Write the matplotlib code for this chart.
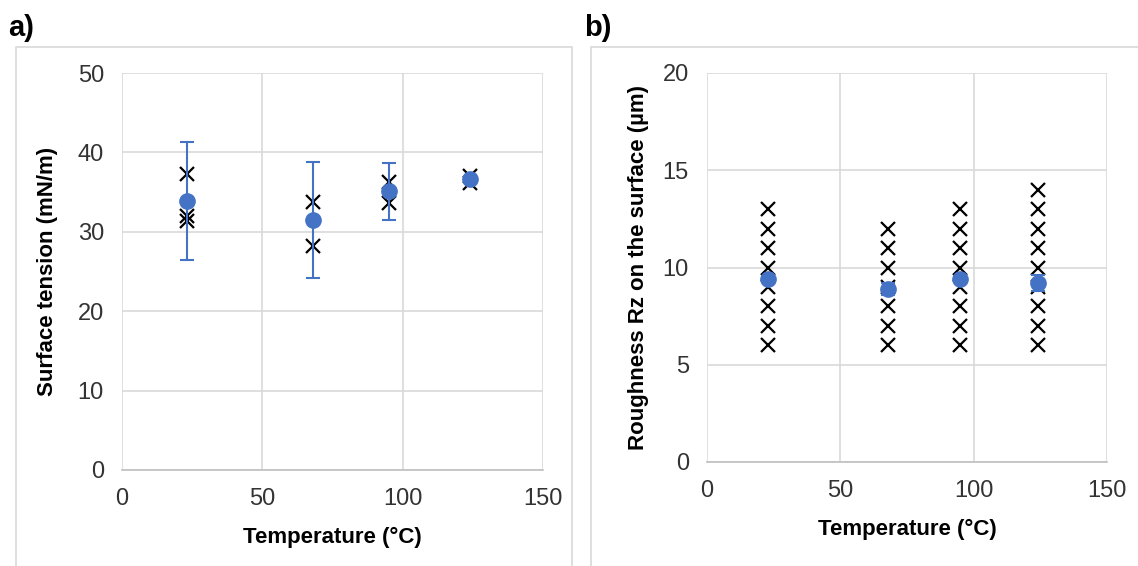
import matplotlib.pyplot as plt
from matplotlib.patches import Rectangle

plt.rcParams['font.family'] = ['Liberation Sans', 'DejaVu Sans']

# a) surface tension
temp_a = [23, 68, 95, 124]
tension_mean = [33.9, 31.5, 35.1, 36.6]
tension_err = [7.4, 7.3, 3.6, 0.3]
tension_x = [23, 23, 23, 68, 68, 95, 95, 124, 124]
tension_raw = [37.3, 32.0, 31.3, 33.8, 28.2, 36.3, 33.6, 37.0, 36.2]

# b) roughness
temp_b = [23, 68, 95, 124]
rough_mean = [9.4, 8.9, 9.4, 9.2]
rough_err = [0.1, 0.3, 0.1, 0.4]
rough_x = [23] * 8 + [68] * 7 + [95] * 8 + [124] * 9
rough_raw = (list(range(6, 14)) + list(range(6, 13)) +
             list(range(6, 14)) + list(range(6, 15)))

blue = '#4472C4'
grid_c = '#D9D9D9'
tick_c = '#333333'

fig = plt.figure(figsize=(11.38, 5.66), dpi=100)

# panel frames
fig.patches.append(Rectangle((16 / 1138, -0.01), (572 - 16) / 1138, 1 - 47 / 566 + 0.01,
                             transform=fig.transFigure, fill=False, ec='#D9D9D9', lw=1.2))
fig.patches.append(Rectangle((591 / 1138, -0.01), (1140 - 591) / 1138, 1 - 47 / 566 + 0.01,
                             transform=fig.transFigure, fill=False, ec='#D9D9D9', lw=1.2))

ax1 = fig.add_axes([122 / 1138, 1 - 470 / 566, (543 - 122) / 1138, (470 - 73) / 566])
ax2 = fig.add_axes([707 / 1138, 1 - 462 / 566, (1107 - 707) / 1138, (462 - 73) / 566])


def style(ax):
    for s in ['left', 'right', 'top']:
        ax.spines[s].set_visible(False)
    ax.spines['bottom'].set_color('#BFBFBF')
    ax.spines['bottom'].set_linewidth(1.2)
    ax.grid(True, color=grid_c, lw=1.2)
    ax.set_axisbelow(True)
    ax.tick_params(length=0, labelsize=17, colors=tick_c, pad=13)
    ax.set_xlim(0, 150)
    ax.set_xticks([0, 50, 100, 150])


style(ax1)
ax1.set_ylim(0, 50)
ax1.set_yticks(range(0, 51, 10))
ax1.plot(tension_x, tension_raw, 'x', color='black', ms=10.5, mew=1.6, zorder=2)
ax1.errorbar(temp_a, tension_mean, yerr=tension_err, fmt='o', color=blue, ms=11,
             ecolor=blue, elinewidth=1.5, capsize=5, capthick=1.5, zorder=3)
ax1.set_xlabel('Temperature (°C)', fontsize=16, fontweight='bold', labelpad=12)
ax1.set_ylabel('Surface tension (mN/m)', fontsize=16, fontweight='bold', labelpad=14)

style(ax2)
ax2.set_ylim(0, 20)
ax2.set_yticks(range(0, 21, 5))
ax2.plot(rough_x, rough_raw, 'x', color='black', ms=10.5, mew=1.6, zorder=2)
ax2.errorbar(temp_b, rough_mean, yerr=rough_err, fmt='o', color=blue, ms=11,
             ecolor=blue, elinewidth=1.5, capsize=5, capthick=1.5, zorder=3)
ax2.set_xlabel('Temperature (°C)', fontsize=16, fontweight='bold', labelpad=12)
ax2.set_ylabel('Roughness Rz on the surface (µm)', fontsize=16, fontweight='bold', labelpad=10)

fig.text(8 / 1138, 1 - 28 / 566, 'a)', fontsize=21, fontweight='bold', va='center')
fig.text(584 / 1138, 1 - 28 / 566, 'b)', fontsize=21, fontweight='bold', va='center')

fig.savefig('out.png', dpi=100)
